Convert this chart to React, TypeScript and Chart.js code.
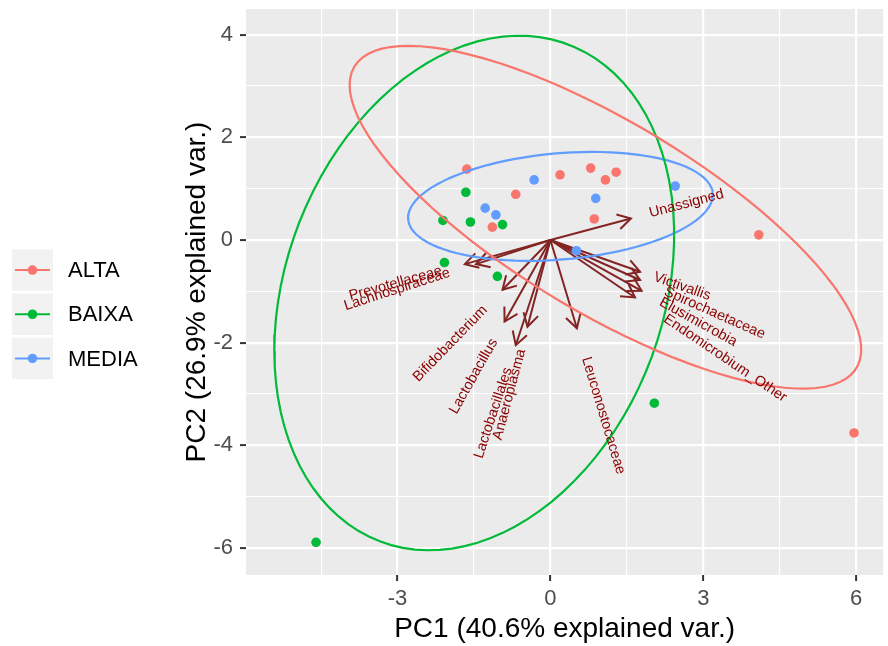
import React, { useEffect, useRef } from 'react';
import { Chart, registerables } from 'chart.js';

Chart.register(...registerables);

// ---------- data ----------
const groupNames = ['ALTA', 'BAIXA', 'MEDIA'];
const groupColors = ['#F8766D', '#00BA38', '#619CFF'];

const altaX = [-1.64, -0.68, 0.19, 0.79, 1.08, 1.29, 0.86, -1.14, 4.09, 5.96];
const altaY = [1.38, 0.89, 1.27, 1.4, 1.17, 1.32, 0.41, 0.25, 0.1, -3.76];
const baixaX = [-1.66, -2.11, -1.57, -0.94, -2.08, -1.04, 2.04, -4.6];
const baixaY = [0.93, 0.38, 0.35, 0.3, -0.44, -0.71, -3.18, -5.89];
const mediaX = [-0.32, 0.89, -1.28, -1.07, 2.45, 0.51];
const mediaY = [1.17, 0.81, 0.62, 0.49, 1.05, -0.21];

const varNames = [
  'Unassigned', 'Prevotellaceae', 'Lachnospiraceae', 'Bifidobacterium',
  'Lactobacillus', 'Lactobacillales', 'Anaeroplasma', 'Leuconostocaceae',
  'Victivallis', 'Spirochaetaceae', 'Elusimicrobia', 'Endomicrobium_Other',
];
const varX = [1.58, -1.68, -1.46, -0.94, -0.9, -0.68, -0.45, 0.52, 1.76, 1.76, 1.79, 1.66];
const varY = [0.42, -0.47, -0.47, -0.97, -1.59, -2.05, -1.69, -1.72, -0.62, -0.78, -0.99, -1.12];

const xMajorTicks = [-3, 0, 3, 6];
const xMinorTicks = [-4.5, -1.5, 1.5, 4.5];
const yMajorTicks = [-6, -4, -2, 0, 2, 4];
const yMinorTicks = [-5, -3, -1, 1, 3];

const xTitle = 'PC1 (40.6% explained var.)';
const yTitle = 'PC2 (26.9% explained var.)';

const ELLIPSE_PROB = 0.9;
const VARNAME_ADJUST = 1.5;

// ---------- helpers ----------
const FONT = '"Liberation Sans", Arial, sans-serif';

function groupEllipse(xs: number[], ys: number[], steps = 100) {
  const n = xs.length;
  const mx = xs.reduce((a, b) => a + b, 0) / n;
  const my = ys.reduce((a, b) => a + b, 0) / n;
  let sxx = 0, syy = 0, sxy = 0;
  for (let i = 0; i < n; i++) {
    const dx = xs[i] - mx, dy = ys[i] - my;
    sxx += dx * dx; syy += dy * dy; sxy += dx * dy;
  }
  sxx /= n - 1; syy /= n - 1; sxy /= n - 1;
  const a = Math.sqrt(sxx);
  const b = sxy / a;
  const c = Math.sqrt(Math.max(syy - b * b, 0));
  const ed = Math.sqrt(-2 * Math.log(1 - ELLIPSE_PROB));
  const pts: { x: number; y: number }[] = [];
  for (let k = 0; k < steps; k++) {
    const t = -Math.PI + (2 * Math.PI * k) / (steps - 1);
    const ct = Math.cos(t), st = Math.sin(t);
    pts.push({ x: mx + ed * a * ct, y: my + ed * (b * ct + c * st) });
  }
  return pts;
}

const toPts = (xs: number[], ys: number[]) => xs.map((x, i) => ({ x, y: ys[i] }));

const groupX = [altaX, baixaX, mediaX];
const groupY = [altaY, baixaY, mediaY];

const panelBg = {
  id: 'panelBg',
  beforeDraw(chart: any) {
    const { ctx, chartArea: a } = chart;
    ctx.save();
    ctx.fillStyle = '#EBEBEB';
    ctx.fillRect(a.left, a.top, a.right - a.left, a.bottom - a.top);
    ctx.restore();
  },
};

const arrowsPlugin = {
  id: 'arrows',
  beforeDatasetsDraw(chart: any) {
    const { ctx, chartArea: a, scales } = chart;
    const xs = scales.x, ys = scales.y;
    const x0 = xs.getPixelForValue(0), y0 = ys.getPixelForValue(0);
    ctx.save();
    ctx.beginPath();
    ctx.rect(a.left, a.top, a.right - a.left, a.bottom - a.top);
    ctx.clip();
    ctx.strokeStyle = '#832424';
    ctx.lineWidth = 2;
    ctx.lineCap = 'butt';
    ctx.lineJoin = 'miter';
    for (let i = 0; i < varNames.length; i++) {
      const x1 = xs.getPixelForValue(varX[i]);
      const y1 = ys.getPixelForValue(varY[i]);
      ctx.beginPath();
      ctx.moveTo(x0, y0);
      ctx.lineTo(x1, y1);
      ctx.stroke();
      const ang = Math.atan2(y1 - y0, x1 - x0);
      const L = 15, hw = Math.PI / 6;
      ctx.beginPath();
      ctx.moveTo(x1 - L * Math.cos(ang - hw), y1 - L * Math.sin(ang - hw));
      ctx.lineTo(x1, y1);
      ctx.lineTo(x1 - L * Math.cos(ang + hw), y1 - L * Math.sin(ang + hw));
      ctx.stroke();
    }
    ctx.restore();
  },
};

const labelsPlugin = {
  id: 'varLabels',
  afterDatasetsDraw(chart: any) {
    const { ctx, chartArea: a, scales } = chart;
    ctx.save();
    ctx.beginPath();
    ctx.rect(a.left, a.top, a.right - a.left, a.bottom - a.top);
    ctx.clip();
    ctx.font = `14.5px ${FONT}`;
    ctx.fillStyle = '#8B0000';
    ctx.textBaseline = 'middle';
    ctx.textAlign = 'left';
    for (let i = 0; i < varNames.length; i++) {
      const px = scales.x.getPixelForValue(varX[i]);
      const py = scales.y.getPixelForValue(varY[i]);
      const theta = Math.atan(varY[i] / varX[i]);
      const hjust = (1 - VARNAME_ADJUST * Math.sign(varX[i])) / 2;
      const w = ctx.measureText(varNames[i]).width;
      ctx.save();
      ctx.translate(px, py);
      ctx.rotate(-theta);
      ctx.fillText(varNames[i], -hjust * w, 0);
      ctx.restore();
    }
    ctx.restore();
  },
};

const legendPlugin = {
  id: 'ggLegend',
  afterDraw(chart: any) {
    const { ctx } = chart;
    const keyLeft = 12, keyW = 41, keyH = 41.5, top0 = 249.3, pitch = 44.2;
    ctx.save();
    for (let i = 0; i < groupNames.length; i++) {
      const top = top0 + i * pitch;
      const cy = top + keyH / 2;
      ctx.fillStyle = '#F2F2F2';
      ctx.fillRect(keyLeft, top, keyW, keyH);
      ctx.strokeStyle = groupColors[i];
      ctx.lineWidth = 2;
      ctx.beginPath();
      ctx.moveTo(keyLeft + 3, cy);
      ctx.lineTo(keyLeft + keyW - 3, cy);
      ctx.stroke();
      ctx.fillStyle = groupColors[i];
      ctx.beginPath();
      ctx.arc(keyLeft + keyW / 2, cy, 4.8, 0, Math.PI * 2);
      ctx.fill();
      ctx.fillStyle = '#000000';
      ctx.font = `22px ${FONT}`;
      ctx.textAlign = 'left';
      ctx.textBaseline = 'middle';
      ctx.fillText(groupNames[i], 68, cy + 1);
    }
    ctx.restore();
  },
};

export default function App() {
  const ref = useRef<HTMLCanvasElement>(null);

  useEffect(() => {
    if (!ref.current) return;
    const pointSets = groupNames.map((g, i) => ({
      type: 'scatter' as const,
      label: g,
      data: toPts(groupX[i], groupY[i]),
      backgroundColor: groupColors[i],
      borderWidth: 0,
      pointRadius: 4.8,
      pointHoverRadius: 4.8,
      order: 2,
    }));
    const ellipseSets = groupNames.map((g, i) => ({
      type: 'scatter' as const,
      label: g + ' ellipse',
      data: groupEllipse(groupX[i], groupY[i]),
      showLine: true,
      fill: false,
      borderColor: groupColors[i],
      borderWidth: 2.2,
      pointRadius: 0,
      pointHoverRadius: 0,
      tension: 0,
      order: 1,
    }));

    const xAll = [...xMajorTicks, ...xMinorTicks].sort((a, b) => a - b);
    const yAll = [...yMajorTicks, ...yMinorTicks].sort((a, b) => a - b);

    const chart = new Chart(ref.current, {
      type: 'scatter',
      data: { datasets: [...ellipseSets, ...pointSets] as any },
      options: {
        responsive: false,
        animation: false,
        events: [],
        layout: { padding: { left: 175, top: 9, right: 0, bottom: 0 } },
        plugins: { legend: { display: false }, tooltip: { enabled: false } },
        scales: {
          x: {
            type: 'linear',
            min: -5.975,
            max: 6.532,
            afterBuildTicks: (s: any) => { s.ticks = xAll.map((v) => ({ value: v })); },
            afterFit: (s: any) => { s.height = 71; s.paddingLeft = 0; s.paddingRight = 0; },
            border: { display: false },
            grid: {
              color: '#FFFFFF',
              lineWidth: (c: any) => (xMajorTicks.includes(c.tick?.value) ? 2.2 : 1.1),
              tickColor: (c: any) => (xMajorTicks.includes(c.tick?.value) ? '#333333' : 'rgba(0,0,0,0)'),
              tickWidth: 2,
              tickLength: 6,
              drawTicks: true,
            },
            ticks: {
              autoSkip: false,
              maxRotation: 0,
              padding: 5,
              color: '#4D4D4D',
              font: { family: FONT, size: 22 },
              callback: (v: any) => (xMajorTicks.includes(Number(v)) ? String(v) : ''),
            },
            title: {
              display: true,
              text: xTitle,
              color: '#000000',
              font: { family: FONT, size: 28 },
              padding: { top: 0, bottom: 0 },
            },
          },
          y: {
            type: 'linear',
            min: -6.527,
            max: 4.5,
            afterBuildTicks: (s: any) => { s.ticks = yAll.map((v) => ({ value: v })); },
            afterFit: (s: any) => { s.width = 71; s.paddingTop = 0; s.paddingBottom = 0; },
            border: { display: false },
            grid: {
              color: '#FFFFFF',
              lineWidth: (c: any) => (yMajorTicks.includes(c.tick?.value) ? 2.2 : 1.1),
              tickColor: (c: any) => (yMajorTicks.includes(c.tick?.value) ? '#333333' : 'rgba(0,0,0,0)'),
              tickWidth: 2,
              tickLength: 6,
              drawTicks: true,
            },
            ticks: {
              autoSkip: false,
              padding: 7,
              color: '#4D4D4D',
              font: { family: FONT, size: 22 },
              callback: (v: any) => (yMajorTicks.includes(Number(v)) ? String(v) : ''),
            },
            title: {
              display: true,
              text: yTitle,
              color: '#000000',
              font: { family: FONT, size: 28 },
              padding: { top: 5, bottom: 0 },
            },
          },
        },
      },
      plugins: [panelBg, arrowsPlugin, labelsPlugin, legendPlugin],
    } as any);
    return () => chart.destroy();
  }, []);

  return (
    <div style={{ position: 'absolute', left: 0, top: 0, width: 888, height: 646, background: '#FFFFFF' }}>
      <canvas ref={ref} width={888} height={646} style={{ display: 'block' }} />
    </div>
  );
}
